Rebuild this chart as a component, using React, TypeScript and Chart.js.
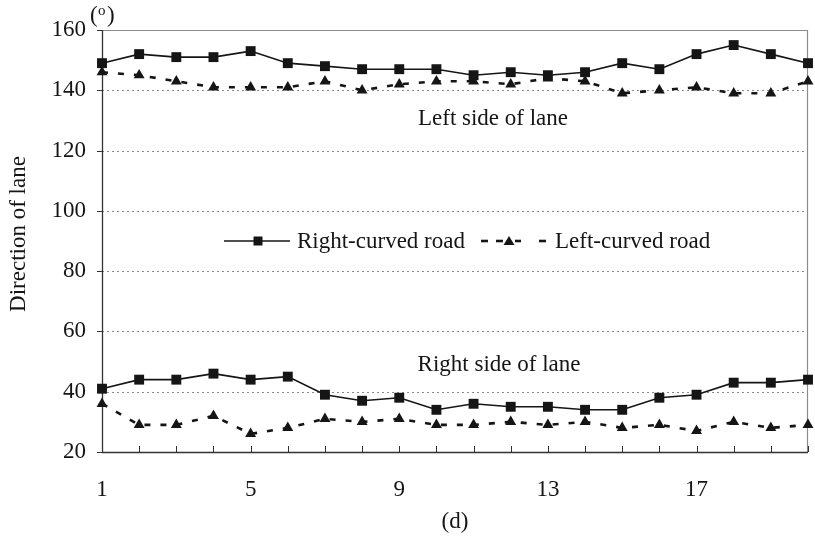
import React, { useEffect, useRef } from "react";
import { Chart, registerables } from "chart.js";

Chart.register(...registerables);

// Observation days
const days = [1, 2, 3, 4, 5, 6, 7, 8, 9, 10, 11, 12, 13, 14, 15, 16, 17, 18, 19, 20];
const xTickLabels = [1, 5, 9, 13, 17];
const yTickValues = [20, 40, 60, 80, 100, 120, 140, 160];

// Left side of lane (degrees)
const rightCurvedLeftSide = [149, 152, 151, 151, 153, 149, 148, 147, 147, 147, 145, 146, 145, 146, 149, 147, 152, 155, 152, 149];
const leftCurvedLeftSide = [146, 145, 143, 141, 141, 141, 143, 140, 142, 143, 143, 142, 144, 143, 139, 140, 141, 139, 139, 143];

// Right side of lane (degrees)
const rightCurvedRightSide = [41, 44, 44, 46, 44, 45, 39, 37, 38, 34, 36, 35, 35, 34, 34, 38, 39, 43, 43, 44];
const leftCurvedRightSide = [36, 29, 29, 32, 26, 28, 31, 30, 31, 29, 29, 30, 29, 30, 28, 29, 27, 30, 28, 29];

const seriesNames = ["Right-curved road", "Left-curved road"];
const sideLabels = ["Left side of lane", "Right side of lane"];

const FONT = '"Liberation Serif", "Times New Roman", serif';
const INK = "#151515";
const DASH = [6, 10];

const toPoints = (vals: number[]) => vals.map((v, i) => ({ x: days[i], y: v }));

const solidStyle = {
  borderColor: INK,
  backgroundColor: INK,
  borderWidth: 1.6,
  pointStyle: "rect" as const,
  pointRadius: 7,
  pointBorderWidth: 0,
  tension: 0,
  clip: false as const,
};

const dashedStyle = {
  borderColor: INK,
  backgroundColor: INK,
  borderWidth: 2.6,
  borderDash: DASH,
  pointStyle: "triangle" as const,
  pointRadius: 6.3,
  pointBorderWidth: 0,
  tension: 0,
  clip: false as const,
};

const framePlugin = {
  id: "frame",
  beforeDatasetsDraw(chart: any) {
    const { ctx, chartArea: a, scales } = chart;
    const ys = scales.y;
    const xs = scales.x;
    ctx.save();
    // dotted horizontal grid
    ctx.strokeStyle = "#8a8a8a";
    ctx.lineWidth = 1;
    ctx.setLineDash([2, 3]);
    yTickValues.forEach((v) => {
      if (v === ys.min || v === ys.max) return;
      const y = Math.round(ys.getPixelForValue(v)) + 0.5;
      ctx.beginPath();
      ctx.moveTo(a.left, y);
      ctx.lineTo(a.right, y);
      ctx.stroke();
    });
    ctx.setLineDash([]);
    // top and right frame
    ctx.strokeStyle = "#8c8c8c";
    ctx.lineWidth = 1.2;
    ctx.beginPath();
    ctx.moveTo(a.left, a.top + 0.5);
    ctx.lineTo(a.right - 0.5, a.top + 0.5);
    ctx.lineTo(a.right - 0.5, a.bottom);
    ctx.stroke();
    // axes
    ctx.strokeStyle = "#333";
    ctx.lineWidth = 1.3;
    ctx.beginPath();
    ctx.moveTo(a.left + 0.5, a.top);
    ctx.lineTo(a.left + 0.5, a.bottom + 0.5);
    ctx.lineTo(a.right, a.bottom + 0.5);
    ctx.stroke();
    // y ticks (outward)
    ctx.lineWidth = 1;
    yTickValues.forEach((v) => {
      const y = Math.round(ys.getPixelForValue(v)) + 0.5;
      ctx.beginPath();
      ctx.moveTo(a.left - 5, y);
      ctx.lineTo(a.left, y);
      ctx.stroke();
    });
    // x ticks (inward)
    days.forEach((d) => {
      const x = Math.round(xs.getPixelForValue(d)) + 0.5;
      ctx.beginPath();
      ctx.moveTo(x, a.bottom);
      ctx.lineTo(x, a.bottom - 6);
      ctx.stroke();
    });
    ctx.restore();
  },
  afterDraw(chart: any) {
    const { ctx } = chart;
    ctx.save();
    ctx.fillStyle = INK;
    ctx.font = `23px ${FONT}`;
    ctx.textBaseline = "middle";

    // unit marker above the y axis
    ctx.textAlign = "left";
    ctx.fillText("(", 90, 16);
    ctx.font = `15px ${FONT}`;
    ctx.fillText("o", 98, 11);
    ctx.font = `23px ${FONT}`;
    ctx.fillText(")", 107, 16);

    // x axis title
    ctx.textAlign = "center";
    ctx.fillText("(d)", 455, 522);

    // y axis title
    ctx.save();
    ctx.translate(19, 234);
    ctx.rotate(-Math.PI / 2);
    ctx.fillText("Direction of lane", 0, 0);
    ctx.restore();

    // region labels
    ctx.fillText(sideLabels[0], 493, 119);
    ctx.fillText(sideLabels[1], 499, 365);

    // legend
    const ly = 241;
    ctx.strokeStyle = INK;
    ctx.lineWidth = 1.6;
    ctx.beginPath();
    ctx.moveTo(224, ly);
    ctx.lineTo(290, ly);
    ctx.stroke();
    ctx.fillRect(258 - 4.5, ly - 4.5, 9, 9);
    ctx.textAlign = "left";
    ctx.fillText(seriesNames[0], 297, ly + 1);

    ctx.lineWidth = 2.6;
    [[481, 488], [496, 503], [515, 521], [539, 546]].forEach(([s, e]) => {
      ctx.beginPath();
      ctx.moveTo(s, ly);
      ctx.lineTo(e, ly);
      ctx.stroke();
    });
    ctx.beginPath();
    ctx.moveTo(509, ly - 5);
    ctx.lineTo(514.5, ly + 4);
    ctx.lineTo(503.5, ly + 4);
    ctx.closePath();
    ctx.fill();
    ctx.fillText(seriesNames[1], 555, ly + 1);
    ctx.restore();
  },
};

export default function App() {
  const canvasRef = useRef<HTMLCanvasElement | null>(null);

  useEffect(() => {
    document.body.style.margin = "0";
    const canvas = canvasRef.current;
    if (!canvas) return;
    const chart = new Chart(canvas, {
      type: "line",
      data: {
        datasets: [
          { label: seriesNames[0], data: toPoints(rightCurvedLeftSide), ...solidStyle },
          { label: seriesNames[1], data: toPoints(leftCurvedLeftSide), ...dashedStyle },
          { label: seriesNames[0], data: toPoints(rightCurvedRightSide), ...solidStyle },
          { label: seriesNames[1], data: toPoints(leftCurvedRightSide), ...dashedStyle },
        ],
      },
      options: {
        animation: false,
        responsive: false,
        devicePixelRatio: 1,
        layout: { padding: { left: 0, top: 30, right: 5, bottom: 0 } },
        plugins: {
          legend: { display: false },
          tooltip: { enabled: false },
        },
        scales: {
          x: {
            type: "linear",
            min: 1,
            max: 20,
            grid: { display: false, drawTicks: false },
            border: { display: false },
            ticks: {
              stepSize: 1,
              autoSkip: false,
              maxRotation: 0,
              padding: 24,
              color: INK,
              font: { family: FONT, size: 23 },
              callback: (v: any) => (xTickLabels.includes(Number(v)) ? String(v) : ""),
            },
            afterFit: (s: any) => {
              s.height = 89;
              s.paddingLeft = 0;
              s.paddingRight = 0;
            },
          },
          y: {
            type: "linear",
            min: 20,
            max: 160,
            grid: { display: false, drawTicks: false },
            border: { display: false },
            ticks: {
              stepSize: 20,
              padding: 16,
              color: INK,
              font: { family: FONT, size: 23 },
            },
            afterFit: (s: any) => {
              s.width = 102;
              s.paddingTop = 0;
              s.paddingBottom = 0;
            },
          },
        },
      },
      plugins: [framePlugin],
    });
    return () => chart.destroy();
  }, []);

  return <canvas ref={canvasRef} width={815} height={541} style={{ display: "block" }} />;
}
